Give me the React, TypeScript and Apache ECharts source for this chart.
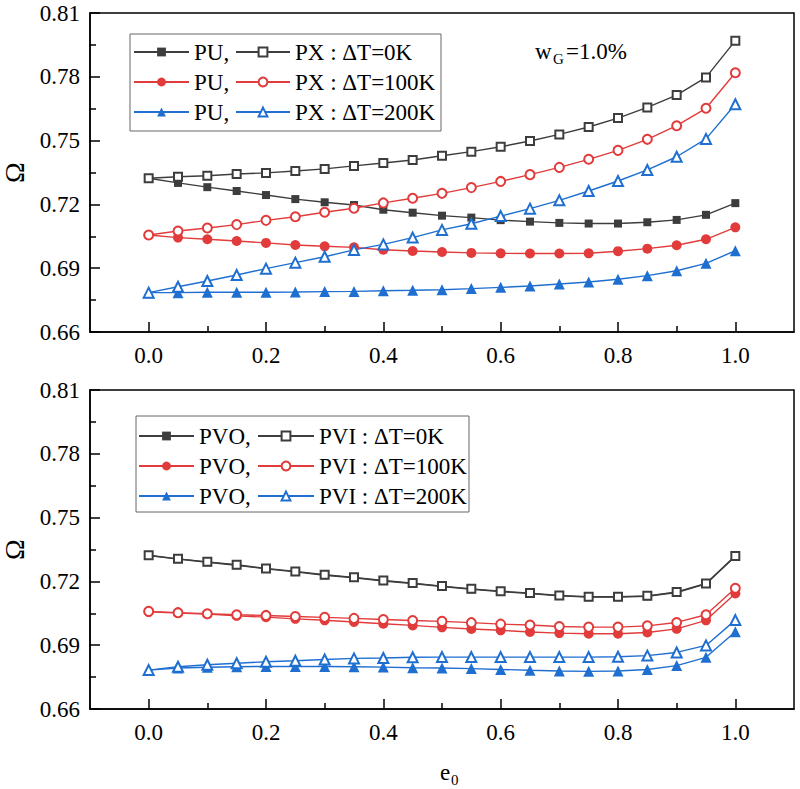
import { useEffect, useRef } from 'react';
import * as echarts from 'echarts';

// Eccentricity e0 sampled along the horizontal axis
const E0 = [0, 0.05, 0.1, 0.15, 0.2, 0.25, 0.3, 0.35, 0.4, 0.45, 0.5, 0.55, 0.6, 0.65, 0.7, 0.75, 0.8, 0.85, 0.9, 0.95, 1.0];

// Upper panel: PU (filled markers) and PX (open markers)
const PU_0K = [0.7323, 0.7301, 0.7281, 0.7263, 0.7244, 0.7225, 0.7210, 0.7197, 0.7175, 0.7161, 0.7147, 0.7138, 0.7126, 0.7119, 0.7113, 0.7110, 0.7110, 0.7116, 0.7127, 0.7151, 0.7206];
const PX_0K = [0.7323, 0.7330, 0.7335, 0.7343, 0.7348, 0.7357, 0.7367, 0.7381, 0.7395, 0.7409, 0.7429, 0.7448, 0.7471, 0.7498, 0.7529, 0.7564, 0.7606, 0.7656, 0.7714, 0.7797, 0.7970];
const PU_100K = [0.7056, 0.7044, 0.7036, 0.7028, 0.7019, 0.7009, 0.7003, 0.6998, 0.6987, 0.6981, 0.6976, 0.6972, 0.6970, 0.6969, 0.6969, 0.6970, 0.6980, 0.6992, 0.7008, 0.7036, 0.7092];
const PX_100K = [0.7056, 0.7075, 0.7089, 0.7105, 0.7125, 0.7142, 0.7163, 0.7182, 0.7207, 0.7229, 0.7252, 0.7279, 0.7308, 0.7340, 0.7374, 0.7412, 0.7454, 0.7506, 0.7570, 0.7652, 0.7819];
const PU_200K = [0.6785, 0.6785, 0.6787, 0.6787, 0.6787, 0.6788, 0.6790, 0.6791, 0.6794, 0.6796, 0.6799, 0.6804, 0.6810, 0.6816, 0.6826, 0.6835, 0.6848, 0.6865, 0.6888, 0.6923, 0.6982];
const PX_200K = [0.6785, 0.6813, 0.6840, 0.6868, 0.6898, 0.6926, 0.6954, 0.6986, 0.7012, 0.7044, 0.7080, 0.7109, 0.7145, 0.7180, 0.7219, 0.7263, 0.7310, 0.7362, 0.7424, 0.7508, 0.7671];

// Lower panel: PVO (filled markers) and PVI (open markers)
const PVO_0K = [0.7322, 0.7305, 0.7290, 0.7276, 0.7259, 0.7245, 0.7229, 0.7217, 0.7202, 0.7190, 0.7176, 0.7163, 0.7152, 0.7143, 0.7132, 0.7126, 0.7126, 0.7130, 0.7148, 0.7188, 0.7318];
const PVI_0K = [0.7323, 0.7306, 0.7292, 0.7278, 0.7261, 0.7247, 0.7231, 0.7219, 0.7204, 0.7192, 0.7178, 0.7165, 0.7154, 0.7145, 0.7134, 0.7128, 0.7128, 0.7132, 0.7150, 0.7190, 0.7320];
const PVO_100K = [0.7057, 0.7051, 0.7046, 0.7038, 0.7032, 0.7024, 0.7017, 0.7009, 0.7001, 0.6993, 0.6984, 0.6976, 0.6970, 0.6962, 0.6957, 0.6954, 0.6954, 0.6960, 0.6977, 0.7017, 0.7143];
const PVI_100K = [0.7059, 0.7053, 0.7048, 0.7043, 0.7040, 0.7035, 0.7031, 0.7026, 0.7021, 0.7016, 0.7012, 0.7006, 0.6999, 0.6995, 0.6988, 0.6985, 0.6985, 0.6991, 0.7007, 0.7043, 0.7168];
const PVO_200K = [0.6783, 0.6793, 0.6796, 0.6799, 0.6800, 0.6800, 0.6800, 0.6799, 0.6797, 0.6794, 0.6793, 0.6790, 0.6786, 0.6782, 0.6779, 0.6777, 0.6779, 0.6786, 0.6804, 0.6843, 0.6963];
const PVI_200K = [0.6783, 0.6799, 0.6808, 0.6815, 0.6822, 0.6827, 0.6833, 0.6838, 0.6840, 0.6843, 0.6844, 0.6844, 0.6844, 0.6844, 0.6844, 0.6844, 0.6846, 0.6851, 0.6866, 0.6899, 0.7018];

// Tick positions
const X_MAJOR = [0, 0.2, 0.4, 0.6, 0.8, 1.0];
const X_MINOR = [0.1, 0.3, 0.5, 0.7, 0.9];
const Y_MIN = 0.66;
const Y_MAX = 0.81;
const Y_STEP = 0.03;

const FONT = '"Liberation Serif", "Times New Roman", serif';
const BLACK = '#3d3d3d';
const RED = '#e23b3b';
const BLUE = '#1f6fd1';

type Curve = {
  name: string;
  label: string;
  values: number[];
  color: string;
  symbol: string;
  size: number;
  panel: number;
};

const CURVES: Curve[] = [
  { name: 'PU-0K', label: 'PU,', values: PU_0K, color: BLACK, symbol: 'rect', size: 8, panel: 0 },
  { name: 'PU-100K', label: 'PU,', values: PU_100K, color: RED, symbol: 'circle', size: 10, panel: 0 },
  { name: 'PU-200K', label: 'PU,', values: PU_200K, color: BLUE, symbol: 'triangle', size: 11, panel: 0 },
  { name: 'PX-0K', label: 'PX : \u0394T=0K', values: PX_0K, color: BLACK, symbol: 'emptyRect', size: 8, panel: 0 },
  { name: 'PX-100K', label: 'PX : \u0394T=100K', values: PX_100K, color: RED, symbol: 'emptyCircle', size: 9, panel: 0 },
  { name: 'PX-200K', label: 'PX : \u0394T=200K', values: PX_200K, color: BLUE, symbol: 'emptyTriangle', size: 10, panel: 0 },
  { name: 'PVO-0K', label: 'PVO,', values: PVO_0K, color: BLACK, symbol: 'rect', size: 8, panel: 1 },
  { name: 'PVO-100K', label: 'PVO,', values: PVO_100K, color: RED, symbol: 'circle', size: 10, panel: 1 },
  { name: 'PVO-200K', label: 'PVO,', values: PVO_200K, color: BLUE, symbol: 'triangle', size: 11, panel: 1 },
  { name: 'PVI-0K', label: 'PVI : \u0394T=0K', values: PVI_0K, color: BLACK, symbol: 'emptyRect', size: 8, panel: 1 },
  { name: 'PVI-100K', label: 'PVI : \u0394T=100K', values: PVI_100K, color: RED, symbol: 'emptyCircle', size: 9, panel: 1 },
  { name: 'PVI-200K', label: 'PVI : \u0394T=200K', values: PVI_200K, color: BLUE, symbol: 'emptyTriangle', size: 10, panel: 1 },
];

const LABELS: Record<string, string> = Object.fromEntries(CURVES.map((c) => [c.name, c.label]));

const GRID_TOP = { left: 90, top: 13, width: 704, height: 319 };
const GRID_BOTTOM = { left: 90, top: 390, width: 704, height: 319 };

const axisLineStyle = { color: '#000', width: 1.5 };
const textBase = { fontFamily: FONT, fontSize: 23, color: '#000' };

function mainXAxis(gridIndex: number) {
  return {
    type: 'value',
    gridIndex,
    min: -0.1,
    max: 1.1,
    axisLine: { show: true, onZero: false, lineStyle: axisLineStyle },
    axisTick: { show: true, inside: true, length: 10, customValues: X_MAJOR, lineStyle: axisLineStyle },
    axisLabel: { ...textBase, margin: 12, customValues: X_MAJOR, formatter: (v: number) => v.toFixed(1) },
    splitLine: { show: false },
  };
}

function minorXAxis(gridIndex: number) {
  return {
    type: 'value',
    gridIndex,
    min: -0.1,
    max: 1.1,
    axisLine: { show: false },
    axisTick: { show: true, inside: true, length: 6, customValues: X_MINOR, lineStyle: axisLineStyle },
    axisLabel: { show: false },
    splitLine: { show: false },
  };
}

function mainYAxis(gridIndex: number) {
  return {
    type: 'value',
    gridIndex,
    min: Y_MIN,
    max: Y_MAX,
    interval: Y_STEP,
    name: '\u03A9',
    nameLocation: 'middle',
    nameGap: 60,
    nameRotate: 90,
    nameTextStyle: { fontFamily: FONT, fontSize: 28, color: '#000' },
    axisLine: { show: true, onZero: false, lineStyle: axisLineStyle },
    axisTick: { show: true, inside: true, length: 10, lineStyle: axisLineStyle },
    minorTick: { show: true, splitNumber: 2, length: 6, lineStyle: axisLineStyle },
    axisLabel: { ...textBase, margin: 10, formatter: (v: number) => v.toFixed(2) },
    splitLine: { show: false },
    minorSplitLine: { show: false },
  };
}

function hiddenYAxis(gridIndex: number) {
  return { type: 'value', gridIndex, min: Y_MIN, max: Y_MAX, show: false };
}

function legendBlock(names: string[], left: number, top: number, width: number) {
  return {
    orient: 'vertical',
    left,
    top,
    padding: 0,
    itemWidth: width,
    itemHeight: 11,
    itemGap: 7,
    selectedMode: false,
    data: names,
    formatter: (n: string) => LABELS[n],
    textStyle: { ...textBase, lineHeight: 23, padding: 0 },
  };
}

export default function App() {
  const ref = useRef<HTMLDivElement>(null);

  useEffect(() => {
    if (!ref.current) return;
    const chart = echarts.init(ref.current, null, { renderer: 'svg' });

    const series = CURVES.map((c) => ({
      type: 'line',
      name: c.name,
      xAxisIndex: c.panel,
      yAxisIndex: c.panel,
      data: E0.map((x, i) => [x, c.values[i]]),
      symbol: c.symbol,
      symbolSize: c.size,
      showSymbol: true,
      lineStyle: { color: c.color, width: 1.4 },
      itemStyle: { color: c.color },
      silent: true,
    }));

    chart.setOption({
      animation: false,
      backgroundColor: '#fff',
      grid: [
        { ...GRID_TOP, show: true, borderColor: '#000', borderWidth: 1.5, outerBoundsMode: 'none' },
        { ...GRID_BOTTOM, show: true, borderColor: '#000', borderWidth: 1.5, outerBoundsMode: 'none' },
        { ...GRID_TOP, outerBoundsMode: 'none' },
        { ...GRID_BOTTOM, outerBoundsMode: 'none' },
      ],
      xAxis: [mainXAxis(0), mainXAxis(1), minorXAxis(2), minorXAxis(3)],
      yAxis: [mainYAxis(0), mainYAxis(1), hiddenYAxis(2), hiddenYAxis(3)],
      legend: [
        legendBlock(['PU-0K', 'PU-100K', 'PU-200K'], 133, 40.5, 55),
        legendBlock(['PX-0K', 'PX-100K', 'PX-200K'], 235, 40.5, 54),
        legendBlock(['PVO-0K', 'PVO-100K', 'PVO-200K'], 138, 424.5, 55),
        legendBlock(['PVI-0K', 'PVI-100K', 'PVI-200K'], 257, 424.5, 56),
      ],
      graphic: [
        { type: 'rect', shape: { x: 130, y: 34, width: 311, height: 97 }, style: { fill: 'none', stroke: '#666', lineWidth: 1 }, z: 1 },
        { type: 'rect', shape: { x: 136, y: 416, width: 333, height: 96 }, style: { fill: 'none', stroke: '#666', lineWidth: 1 }, z: 1 },
        { type: 'text', x: 535, y: 51, style: { text: 'w', font: `23px ${FONT}`, fill: '#000', verticalAlign: 'middle' } },
        { type: 'text', x: 553, y: 59, style: { text: 'G', font: `15px ${FONT}`, fill: '#000', verticalAlign: 'middle' } },
        { type: 'text', x: 566, y: 51, style: { text: '=1.0%', font: `23px ${FONT}`, fill: '#000', verticalAlign: 'middle' } },
        { type: 'text', x: 440, y: 772, style: { text: 'e', font: `23px ${FONT}`, fill: '#000', verticalAlign: 'middle' } },
        { type: 'text', x: 451, y: 780, style: { text: '0', font: `15px ${FONT}`, fill: '#000', verticalAlign: 'middle' } },
      ],
      series,
    });

    return () => chart.dispose();
  }, []);

  return <div ref={ref} style={{ position: 'absolute', left: 0, top: 0, width: 800, height: 789 }} />;
}
